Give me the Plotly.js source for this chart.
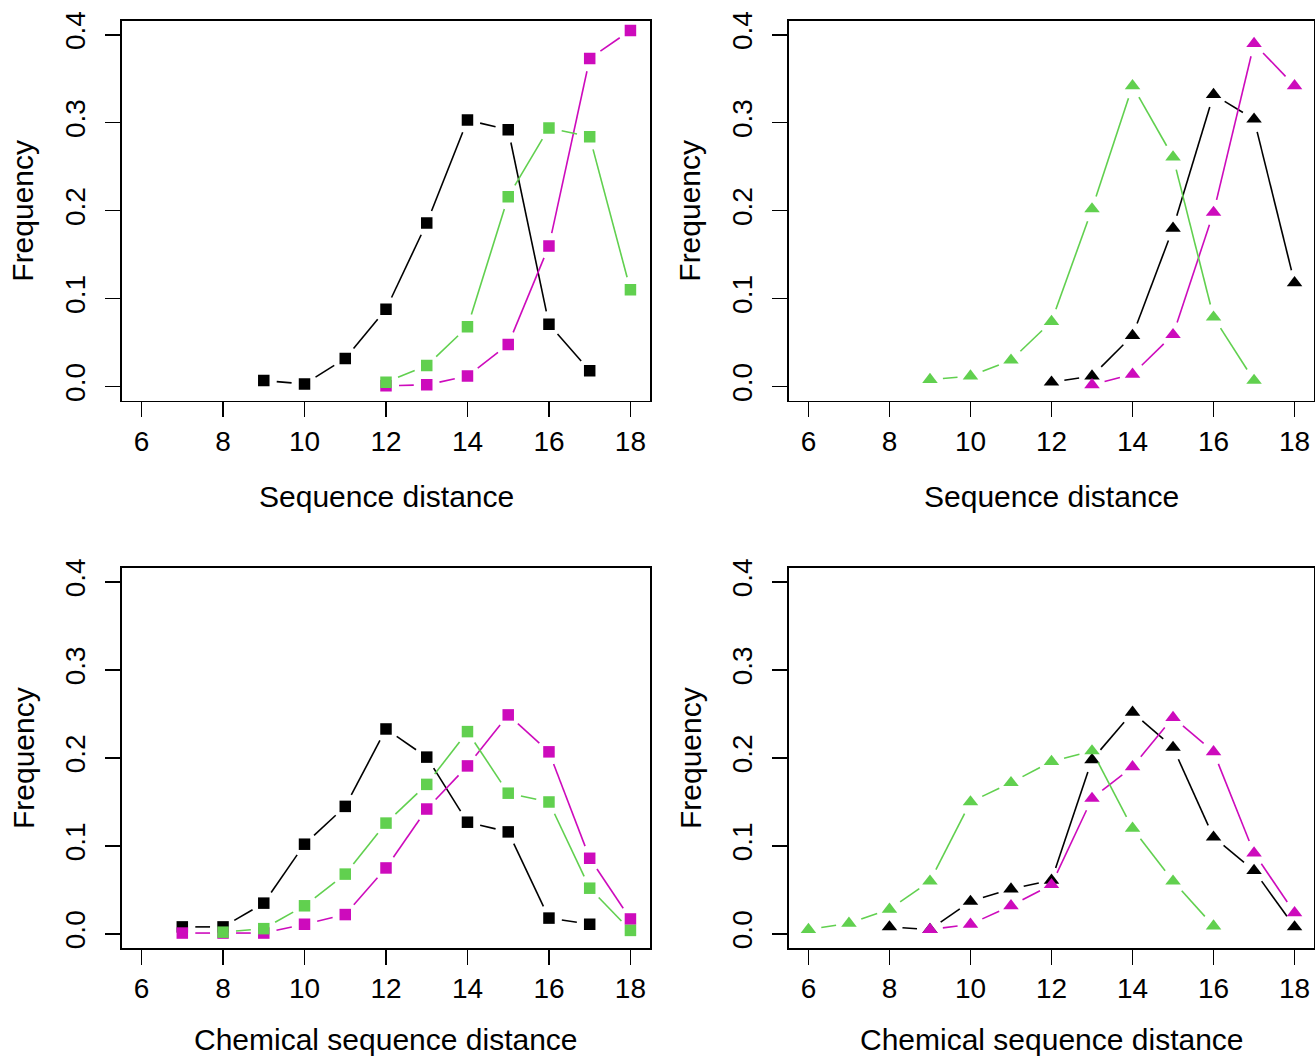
<!DOCTYPE html>
<html><head><meta charset="utf-8">
<script src="https://cdn.plot.ly/plotly-3.0.1.min.js"></script>
<style>html,body{margin:0;padding:0;background:#fff}</style>
</head><body><div id="chart" style="width:1315px;height:1057px"></div>
<script>
// ---------- data ----------
const xTickVals = [6, 8, 10, 12, 14, 16, 18];
const yTickVals = [0, 0.1, 0.2, 0.3, 0.4];
const yTickText = ["0.0", "0.1", "0.2", "0.3", "0.4"];
const xTitleTop = "Sequence distance";
const xTitleBottom = "Chemical sequence distance";
const yTitle = "Frequency";

// Panel A (top-left, squares)
const a_black_x = [9, 10, 11, 12, 13, 14, 15, 16, 17];
const a_black_y = [0.007, 0.003, 0.032, 0.088, 0.186, 0.303, 0.292, 0.071, 0.018];
const a_magenta_x = [12, 13, 14, 15, 16, 17, 18];
const a_magenta_y = [0.001, 0.002, 0.012, 0.048, 0.160, 0.373, 0.405];
const a_green_x = [12, 13, 14, 15, 16, 17, 18];
const a_green_y = [0.005, 0.024, 0.068, 0.216, 0.294, 0.284, 0.110];

// Panel B (top-right, triangles)
const b_black_x = [12, 13, 14, 15, 16, 17, 18];
const b_black_y = [0.005, 0.012, 0.058, 0.180, 0.332, 0.304, 0.118];
const b_magenta_x = [13, 14, 15, 16, 17, 18];
const b_magenta_y = [0.002, 0.014, 0.059, 0.198, 0.390, 0.342];
const b_green_x = [9, 10, 11, 12, 13, 14, 15, 16, 17];
const b_green_y = [0.008, 0.012, 0.030, 0.074, 0.202, 0.342, 0.261, 0.079, 0.007];

// Panel C (bottom-left, squares)
const c_black_x = [7, 8, 9, 10, 11, 12, 13, 14, 15, 16, 17];
const c_black_y = [0.008, 0.008, 0.035, 0.102, 0.145, 0.233, 0.201, 0.127, 0.116, 0.018, 0.011];
const c_magenta_x = [7, 8, 9, 10, 11, 12, 13, 14, 15, 16, 17, 18];
const c_magenta_y = [0.001, 0.001, 0.001, 0.011, 0.022, 0.075, 0.142, 0.191, 0.249, 0.207, 0.086, 0.017];
const c_green_x = [8, 9, 10, 11, 12, 13, 14, 15, 16, 17, 18];
const c_green_y = [0.002, 0.006, 0.032, 0.068, 0.126, 0.170, 0.230, 0.160, 0.150, 0.052, 0.004];

// Panel D (bottom-right, triangles)
const d_black_x = [8, 9, 10, 11, 12, 13, 14, 15, 16, 17, 18];
const d_black_y = [0.008, 0.005, 0.037, 0.051, 0.061, 0.198, 0.252, 0.212, 0.110, 0.072, 0.008];
const d_magenta_x = [9, 10, 11, 12, 13, 14, 15, 16, 17, 18];
const d_magenta_y = [0.005, 0.011, 0.032, 0.056, 0.154, 0.190, 0.246, 0.207, 0.092, 0.024];
const d_green_x = [6, 7, 8, 9, 10, 11, 12, 13, 14, 15, 16];
const d_green_y = [0.005, 0.012, 0.028, 0.060, 0.150, 0.172, 0.196, 0.208, 0.120, 0.060, 0.009];

// ---------- styling / layout ----------
const W = 1315, H = 1057;
const BLACK = "#000000", MAGENTA = "#CD0BBC", GREEN = "#61D04F";
const FONT = "Liberation Sans, Arial, Helvetica, sans-serif";
const XR = [5.52, 18.48], YR = [-0.016, 0.416];
const colL = [122 / W, 650 / W], colR = [789 / W, 1314 / W];
const rowT = [1 - 400.7 / H, 1 - 20.7 / H], rowB = [1 - 948 / H, 1 - 568 / H];
const GAP = 13; // px gap around points, like R type="b"

const panels = [
  {xa: "x",  ya: "y",  xd: colL, yd: rowT, sym: "square", series: [
    [a_black_x, a_black_y, BLACK], [a_magenta_x, a_magenta_y, MAGENTA], [a_green_x, a_green_y, GREEN]]},
  {xa: "x2", ya: "y2", xd: colR, yd: rowT, sym: "triangle-up", series: [
    [b_black_x, b_black_y, BLACK], [b_magenta_x, b_magenta_y, MAGENTA], [b_green_x, b_green_y, GREEN]]},
  {xa: "x3", ya: "y3", xd: colL, yd: rowB, sym: "square", series: [
    [c_black_x, c_black_y, BLACK], [c_magenta_x, c_magenta_y, MAGENTA], [c_green_x, c_green_y, GREEN]]},
  {xa: "x4", ya: "y4", xd: colR, yd: rowB, sym: "triangle-up", series: [
    [d_black_x, d_black_y, BLACK], [d_magenta_x, d_magenta_y, MAGENTA], [d_green_x, d_green_y, GREEN]]}
];

function gapped(xs, ys, pxX, pxY) {
  const ox = [], oy = [];
  for (let i = 0; i < xs.length - 1; i++) {
    const dx = (xs[i + 1] - xs[i]) * pxX, dy = (ys[i + 1] - ys[i]) * pxY;
    const len = Math.hypot(dx, dy);
    if (len <= 2 * GAP) continue;
    const f = GAP / len;
    ox.push(xs[i] + (xs[i + 1] - xs[i]) * f, xs[i + 1] - (xs[i + 1] - xs[i]) * f, null);
    oy.push(ys[i] + (ys[i + 1] - ys[i]) * f, ys[i + 1] - (ys[i + 1] - ys[i]) * f, null);
  }
  return [ox, oy];
}

const traces = [];
panels.forEach(p => {
  const pxX = (p.xd[1] - p.xd[0]) * W / (XR[1] - XR[0]);
  const pxY = (p.yd[1] - p.yd[0]) * H / (YR[1] - YR[0]);
  p.series.forEach(s => {
    const [gx, gy] = gapped(s[0], s[1], pxX, pxY);
    traces.push({x: gx, y: gy, xaxis: p.xa, yaxis: p.ya, type: "scatter", mode: "lines",
      line: {color: s[2], width: 1.6}, connectgaps: false, hoverinfo: "skip", showlegend: false});
    traces.push({x: s[0], y: s[1], xaxis: p.xa, yaxis: p.ya, type: "scatter", mode: "markers",
      marker: {symbol: p.sym, color: s[2], size: p.sym === "square" ? 11.5 : 13.5, line: {width: 0}},
      showlegend: false});
  });
});

function xaxis(dom, anchor) {
  return {domain: dom, anchor: anchor, range: XR, tickvals: xTickVals, ticktext: xTickVals.map(String),
    ticks: "outside", ticklen: 15, tickwidth: 1.5, tickcolor: "#000", showline: true, mirror: true,
    linecolor: "#000", linewidth: 1.6, showgrid: false, zeroline: false, automargin: false,
    tickfont: {family: FONT, size: 28, color: "#000"}, ticklabelstandoff: 0, fixedrange: true};
}
function yaxis(dom, anchor) {
  return {domain: dom, anchor: anchor, range: YR, tickvals: yTickVals, ticktext: yTickText,
    tickangle: -90, ticks: "outside", ticklen: 15, tickwidth: 1.5, tickcolor: "#000", showline: true,
    mirror: true, linecolor: "#000", linewidth: 1.6, showgrid: false, zeroline: false, automargin: false,
    tickfont: {family: FONT, size: 28, color: "#000"}, ticklabelstandoff: 9, fixedrange: true};
}

const ann = [];
function addTitles(xd, yd, xt, lift) {
  const cx = (xd[0] + xd[1]) / 2;
  const cy = (yd[0] + yd[1]) / 2;
  const boxBottomPx = (1 - yd[0]) * H;
  ann.push({text: xt, xref: "paper", yref: "paper", x: cx, y: 1 - (boxBottomPx + 96 - lift) / H,
    xanchor: "center", yanchor: "middle", showarrow: false, font: {family: FONT, size: 30, color: "#000"}});
  const boxLeftPx = xd[0] * W;
  ann.push({text: yTitle, xref: "paper", yref: "paper", x: (boxLeftPx - 99) / W, y: cy,
    xanchor: "center", yanchor: "middle", textangle: -90, showarrow: false,
    font: {family: FONT, size: 30, color: "#000"}});
}
addTitles(colL, rowT, xTitleTop, 0);
addTitles(colR, rowT, xTitleTop, 0);
addTitles(colL, rowB, xTitleBottom, 5);
addTitles(colR, rowB, xTitleBottom, 5);

const layout = {
  width: W, height: H, margin: {l: 0, r: 0, t: 0, b: 0},
  paper_bgcolor: "#fff", plot_bgcolor: "#fff", showlegend: false,
  font: {family: FONT, color: "#000"},
  xaxis: xaxis(colL, "y"), yaxis: yaxis(rowT, "x"),
  xaxis2: xaxis(colR, "y2"), yaxis2: yaxis(rowT, "x2"),
  xaxis3: xaxis(colL, "y3"), yaxis3: yaxis(rowB, "x3"),
  xaxis4: xaxis(colR, "y4"), yaxis4: yaxis(rowB, "x4"),
  annotations: ann
};
Plotly.newPlot("chart", traces, layout, {displayModeBar: false, staticPlot: true});
</script></body></html>
